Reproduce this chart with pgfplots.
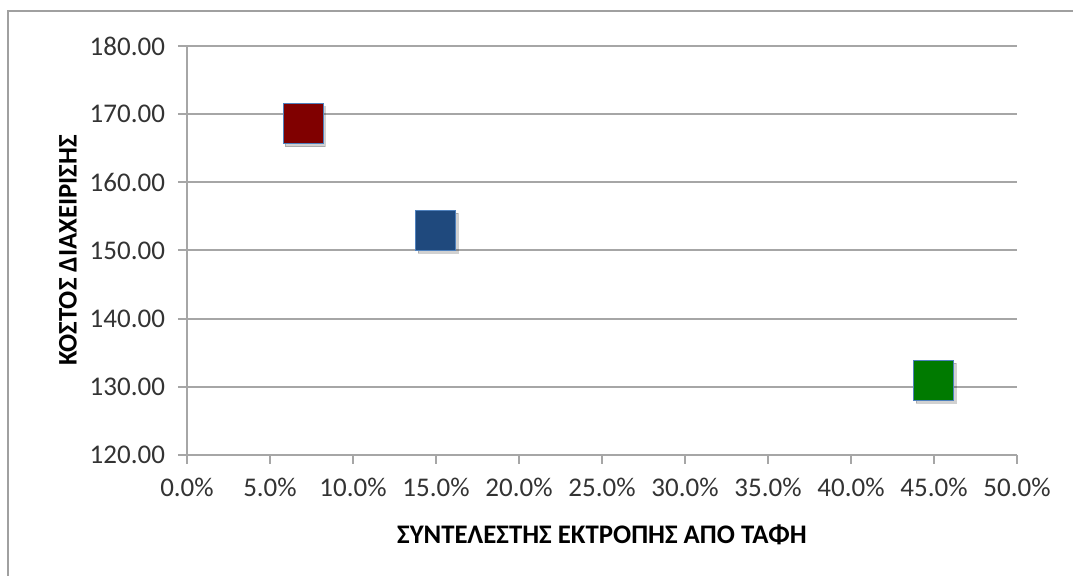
\documentclass[border=0pt]{standalone}
\usepackage{pgfplots}
\pgfplotsset{compat=1.18}
\usepackage{fontspec}
\setmainfont{Carlito}

\definecolor{gridgray}{HTML}{A6A6A6}
\definecolor{framegray}{HTML}{A0A0A0}
\definecolor{ptred}{HTML}{800000}
\definecolor{ptblue}{HTML}{1F497D}
\definecolor{ptgreen}{HTML}{007A00}
\definecolor{edgeblue}{HTML}{4F81BD}

\begin{document}
\begin{tikzpicture}
\useasboundingbox (0,0) rectangle (536.5pt,288pt);
% chart frame (only top and left edges show)
\draw[framegray, line width=1.2pt] (4pt,-20pt) -- (4pt,282.5pt) -- (600pt,282.5pt);

\begin{axis}[
    at={(93.5pt,60.5pt)}, anchor=south west,
    scale only axis,
    width=415pt, height=204.5pt,
    xmin=0, xmax=50, ymin=120, ymax=180,
    xtick distance=5, ytick distance=10,
    axis x line*=bottom, axis y line*=left,
    axis line style={gridgray, line width=1pt, -},
    ymajorgrids,
    major grid style={gridgray, line width=1pt},
    tick style={gridgray, line width=1pt},
    tick align=outside, major tick length=4.5pt,
    /pgf/number format/assume math mode=true,
    tick label style={font=\fontsize{13.5}{15}\selectfont, text=black!80},
    xticklabel={\pgfmathprintnumber[fixed,fixed zerofill,precision=1]{\tick}\%},
    yticklabel={\pgfmathprintnumber[fixed,fixed zerofill,precision=2]{\tick}},
    xticklabel style={yshift=-3.5pt},
    yticklabel style={xshift=-3pt},
    xlabel={ΣΥΝΤΕΛΕΣΤΗΣ ΕΚΤΡΟΠΗΣ ΑΠΟ ΤΑΦΗ},
    ylabel={ΚΟΣΤΟΣ ΔΙΑΧΕΙΡΙΣΗΣ},
    label style={font=\fontsize{13.4}{15}\selectfont\bfseries},
    xlabel style={at={(axis description cs:0.5,0)}, anchor=center, yshift=-40pt},
    ylabel style={at={(axis description cs:0,0.5)}, anchor=center, yshift=59.5pt},
    clip=false,
]
% soft shadows under the markers
\addplot[only marks, mark=square*, mark size=10pt,
    mark options={fill=black, draw=none, opacity=0.18, xshift=1pt, yshift=-1.5pt}]
    coordinates {(7.0,168.6) (15.0,153.0) (45.0,131.0)};
\addplot[only marks, mark=square*, mark size=10pt,
    mark options={fill=ptred, draw=edgeblue, line width=0.5pt}]
    coordinates {(7.0,168.6)};
\addplot[only marks, mark=square*, mark size=10pt,
    mark options={fill=ptblue, draw=edgeblue, line width=0.5pt}]
    coordinates {(15.0,153.0)};
\addplot[only marks, mark=square*, mark size=10pt,
    mark options={fill=ptgreen, draw=edgeblue, line width=0.5pt}]
    coordinates {(45.0,131.0)};
\end{axis}
\end{tikzpicture}
\end{document}
